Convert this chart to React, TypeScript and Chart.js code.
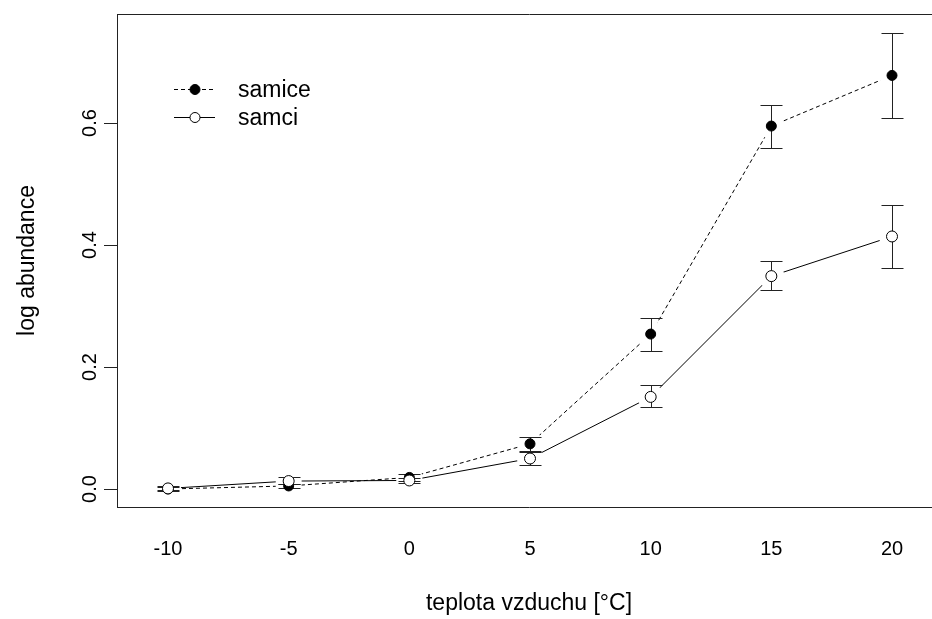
import React, { useEffect, useRef } from "react";
import { Chart, registerables } from "chart.js";

Chart.register(...registerables);

// ---- data ----
const temperatures = [-10, -5, 0, 5, 10, 15, 20];
const samiceMean = [0.0, 0.005, 0.019, 0.074, 0.254, 0.595, 0.678];
const samiceLow = [-0.003, 0.001, 0.013, 0.062, 0.226, 0.559, 0.609];
const samiceHigh = [0.003, 0.009, 0.025, 0.086, 0.281, 0.63, 0.748];
const samciMean = [0.001, 0.013, 0.014, 0.05, 0.151, 0.349, 0.414];
const samciLow = [-0.002, 0.008, 0.01, 0.04, 0.135, 0.326, 0.363];
const samciHigh = [0.005, 0.019, 0.018, 0.06, 0.17, 0.373, 0.466];
const xTickValues = [-10, -5, 0, 5, 10, 15, 20];
const yTickValues = [0, 0.2, 0.4, 0.6];
const seriesLabels = ["samice", "samci"];
const xTitle = "teplota vzduchu [°C]";
const yTitle = "log abundance";

const FONT = "'Liberation Sans', Arial, Helvetica, sans-serif";
const INK = "#000";
const FRAME = "#222";

// the plot box of the reference runs a little past the right edge of the picture
const VIEW_W = 932;
const VIEW_H = 619;
const CANVAS_W = 941;

const toPoints = (ys: number[]) => temperatures.map((t, i) => ({ x: t, y: ys[i] }));

const errorSeries = [
  { low: samiceLow, high: samiceHigh },
  { low: samciLow, high: samciHigh },
];

const errorBarPlugin = {
  id: "errorBars",
  beforeDatasetDraw(chart: any, args: any) {
    const ds = chart.data.datasets[args.index];
    if (!ds || !ds.errorBarsBefore) return;
    const { ctx } = chart;
    const xs = chart.scales.x;
    const ys = chart.scales.y;
    ctx.save();
    ctx.strokeStyle = FRAME;
    ctx.lineWidth = 1;
    ctx.setLineDash([]);
    const cap = 11;
    for (const s of errorSeries) {
      temperatures.forEach((t, i) => {
        const px = Math.round(xs.getPixelForValue(t)) + 0.5;
        const yl = Math.round(ys.getPixelForValue(s.low[i])) + 0.5;
        const yh = Math.round(ys.getPixelForValue(s.high[i])) + 0.5;
        ctx.beginPath();
        ctx.moveTo(px, yl);
        ctx.lineTo(px, yh);
        ctx.moveTo(px - cap, yl);
        ctx.lineTo(px + cap, yl);
        ctx.moveTo(px - cap, yh);
        ctx.lineTo(px + cap, yh);
        ctx.stroke();
      });
    }
    ctx.beginPath();
    ctx.restore();
  },
};

const legendPlugin = {
  id: "rLegend",
  afterDraw(chart: any) {
    const { ctx, chartArea } = chart;
    const left = chartArea.left;
    const top = chartArea.top;
    const rows = [
      { label: seriesLabels[0], dash: [4, 3], filled: true, y: top + 75.5 },
      { label: seriesLabels[1], dash: [], filled: false, y: top + 103.5 },
    ];
    ctx.save();
    for (const r of rows) {
      const cx = left + 78;
      ctx.strokeStyle = INK;
      ctx.lineWidth = 1;
      ctx.setLineDash(r.dash);
      ctx.beginPath();
      ctx.moveTo(left + 57, r.y);
      ctx.lineTo(left + 98, r.y);
      ctx.stroke();
      ctx.setLineDash([]);
      ctx.beginPath();
      ctx.arc(cx, r.y, 5, 0, Math.PI * 2);
      ctx.fillStyle = r.filled ? INK : "#fff";
      ctx.fill();
      ctx.stroke();
      ctx.beginPath();
      ctx.fillStyle = INK;
      ctx.font = `23px ${FONT}`;
      ctx.textAlign = "left";
      ctx.textBaseline = "middle";
      ctx.fillText(r.label, left + 121, r.y + 1.5);
    }
    ctx.restore();
  },
};

export default function App() {
  const ref = useRef<HTMLCanvasElement>(null);

  useEffect(() => {
    if (!ref.current) return;
    const xMin = -12.113;
    const xMax = 22.03;
    const chart = new Chart(ref.current, {
      type: "scatter",
      data: {
        datasets: [
          {
            label: seriesLabels[0] + " line",
            data: toPoints(samiceMean),
            showLine: true,
            borderColor: INK,
            borderWidth: 1,
            borderDash: [4, 3],
            pointRadius: 0,
            fill: false,
            order: 6,
          },
          {
            label: seriesLabels[1] + " line",
            data: toPoints(samciMean),
            showLine: true,
            borderColor: INK,
            borderWidth: 1,
            pointRadius: 0,
            fill: false,
            order: 5,
          },
          {
            label: seriesLabels[0] + " gap",
            data: toPoints(samiceMean),
            showLine: false,
            pointRadius: 13,
            pointBackgroundColor: "#fff",
            pointBorderWidth: 0,
            pointBorderColor: "#fff",
            order: 4,
          },
          {
            label: seriesLabels[1] + " gap",
            data: toPoints(samciMean),
            showLine: false,
            pointRadius: 13,
            pointBackgroundColor: "#fff",
            pointBorderWidth: 0,
            pointBorderColor: "#fff",
            order: 3,
          },
          {
            label: seriesLabels[0],
            data: toPoints(samiceMean),
            showLine: false,
            pointRadius: 5,
            pointBackgroundColor: INK,
            pointBorderColor: INK,
            pointBorderWidth: 1,
            order: 2,
            errorBarsBefore: true,
          } as any,
          {
            label: seriesLabels[1],
            data: toPoints(samciMean),
            showLine: false,
            pointRadius: 5.5,
            pointBackgroundColor: "#fff",
            pointBorderColor: INK,
            pointBorderWidth: 1,
            order: 1,
          },
        ],
      },
      options: {
        responsive: false,
        animation: false,
        devicePixelRatio: 1,
        events: [],
        layout: { padding: 0, autoPadding: false },
        plugins: {
          legend: { display: false },
          tooltip: { enabled: false },
        },
        scales: {
          x: {
            type: "linear",
            position: "bottom",
            min: xMin,
            max: xMax,
            afterBuildTicks: (s: any) => {
              s.ticks = xTickValues.map((v) => ({ value: v }));
            },
            afterFit: (s: any) => {
              s.height = 112;
            },
            grid: { drawOnChartArea: false, drawTicks: false },
            border: { display: true, color: FRAME, width: 1 },
            ticks: {
              color: INK,
              font: { family: FONT, size: 20 },
              padding: 30,
              maxRotation: 0,
              minRotation: 0,
              autoSkip: false,
              callback: (v: any) => String(v),
            },
            title: {
              display: true,
              text: xTitle,
              color: INK,
              font: { family: FONT, size: 23 },
              padding: { top: 0, bottom: 2 },
            },
          },
          xTop: {
            type: "linear",
            position: "top",
            min: xMin,
            max: xMax,
            afterFit: (s: any) => {
              s.height = 14;
            },
            grid: { drawOnChartArea: false, drawTicks: false },
            border: { display: true, color: FRAME, width: 1 },
            ticks: { display: false },
          },
          y: {
            type: "linear",
            position: "left",
            min: -0.0295,
            max: 0.7787,
            afterBuildTicks: (s: any) => {
              s.ticks = yTickValues.map((v) => ({ value: v }));
            },
            afterFit: (s: any) => {
              s.width = 117;
            },
            grid: {
              drawOnChartArea: false,
              drawTicks: true,
              tickLength: 13,
              tickColor: FRAME,
              tickWidth: 1,
            },
            border: { display: true, color: FRAME, width: 1 },
            ticks: {
              color: INK,
              font: { family: FONT, size: 20 },
              padding: 0,
              minRotation: 90,
              maxRotation: 90,
              crossAlign: "center",
              autoSkip: false,
              callback: (v: any) => Number(v).toFixed(1),
            },
            title: {
              display: true,
              text: yTitle,
              color: INK,
              font: { family: FONT, size: 23 },
              padding: { top: 14, bottom: 0 },
            },
          },
        },
      } as any,
      plugins: [errorBarPlugin, legendPlugin],
    });
    return () => chart.destroy();
  }, []);

  return (
    <div
      style={{
        position: "absolute",
        left: 0,
        top: 0,
        width: VIEW_W,
        height: VIEW_H,
        background: "#fff",
        overflow: "hidden",
      }}
    >
      <canvas ref={ref} width={CANVAS_W} height={VIEW_H} style={{ display: "block" }} />
    </div>
  );
}
